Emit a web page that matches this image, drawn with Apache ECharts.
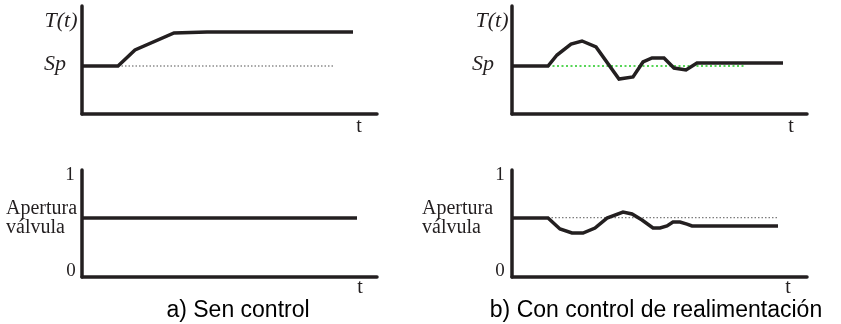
<!DOCTYPE html>
<html>
<head>
<meta charset="utf-8">
<script src="https://cdn.jsdelivr.net/npm/echarts@6/dist/echarts.min.js"></script>
<style>
html,body{margin:0;padding:0;background:#fff;}
#chart{width:841px;height:324px;}
</style>
</head>
<body>
<div id="chart"></div>
<script>
// ---- data (time in arbitrary units, temperature in arbitrary units, valve opening 0..1) ----
const tempNoCtrlTime = [0, 36, 53, 92, 125, 271];
const tempNoCtrlVal  = [48, 48, 64, 81, 82, 82];
const spNoCtrlTime   = [36, 253];
const spNoCtrlVal    = [48, 48];

const tempCtrlTime = [0, 36, 45, 59, 70, 84, 107, 121, 131, 140, 152, 162, 174, 185, 271];
const tempCtrlVal  = [48, 48, 59, 70, 73, 67, 35, 37, 52, 56, 56, 46, 44, 51, 51];
const spCtrlTime   = [0, 234];
const spCtrlVal    = [48, 48];

const valveNoCtrlTime = [0, 275];
const valveNoCtrlVal  = [0.551, 0.551];

const valveCtrlTime = [0, 36, 48, 60, 71, 83, 95, 111, 120, 130, 141, 148, 155, 161, 168, 175, 180, 266];
const valveCtrlVal  = [0.551, 0.551, 0.449, 0.411, 0.411, 0.458, 0.551, 0.607, 0.589, 0.533, 0.458, 0.458, 0.477, 0.514, 0.514, 0.495, 0.477, 0.477];
const valveRefTime  = [36, 266];
const valveRefVal   = [0.555, 0.555];

const yTopLabels  = ['T(t)', 'Sp'];
const yBotLabels  = ['1', '0', 'Apertura', 'válvula'];
const xLabel      = 't';
const captions    = ['a) Sen control', 'b) Con control de realimentación'];

function pairs(t, v) { return t.map((x, i) => [x, v[i]]); }

const INK = '#231f20';
const serif = '"Liberation Serif", "DejaVu Serif", serif';
const sans = '"Liberation Sans", Arial, sans-serif';

const grids = [
  {left: 82, top: 6, width: 295, height: 108},
  {left: 512, top: 6, width: 295, height: 108},
  {left: 82, top: 170, width: 295, height: 107},
  {left: 512, top: 170, width: 295, height: 107}
];
const axisLine = {show: true, onZero: false, lineStyle: {color: INK, width: 3.5}};
const xAxes = grids.map((g, i) => ({
  type: 'value', gridIndex: i, min: 0, max: 295,
  axisLine: axisLine, axisTick: {show: false}, axisLabel: {show: false}, splitLine: {show: false}
}));
const yAxes = grids.map((g, i) => ({
  type: 'value', gridIndex: i, min: 0, max: i < 2 ? 108 : 1,
  axisLine: axisLine, axisTick: {show: false}, axisLabel: {show: false}, splitLine: {show: false}
}));

function mainLine(idx, data) {
  return {type: 'line', xAxisIndex: idx, yAxisIndex: idx, data: data, showSymbol: false,
    silent: true, z: 3, lineStyle: {color: INK, width: 3.5, join: 'miter'}};
}
function refLine(idx, data, color, dash, w) {
  return {type: 'line', xAxisIndex: idx, yAxisIndex: idx, data: data, showSymbol: false,
    silent: true, z: 2, lineStyle: {color: color, width: w, type: dash}};
}

const series = [
  refLine(0, pairs(spNoCtrlTime, spNoCtrlVal), '#8c8c8c', [1.5, 2], 1.3),
  mainLine(0, pairs(tempNoCtrlTime, tempNoCtrlVal)),
  refLine(1, pairs(spCtrlTime, spCtrlVal), '#1fc81f', [2, 2.5], 1.6),
  mainLine(1, pairs(tempCtrlTime, tempCtrlVal)),
  mainLine(2, pairs(valveNoCtrlTime, valveNoCtrlVal)),
  refLine(3, pairs(valveRefTime, valveRefVal), '#7c7c7c', [1.5, 2], 1.3),
  mainLine(3, pairs(valveCtrlTime, valveCtrlVal))
];

function txt(x, y, s, opt) {
  return {type: 'text', x: x, y: y, silent: true, style: Object.assign({
    text: s, fill: INK, font: '19px ' + serif, textAlign: 'center', textVerticalAlign: 'middle'
  }, opt || {})};
}
const itSerif = 'italic 22px ' + serif;
const numFont = '19px ' + serif;
const valveFont = '20px ' + serif;
const graphics = [
  txt(61, 21, yTopLabels[0], {font: itSerif}),
  txt(55, 64, yTopLabels[1], {font: itSerif}),
  txt(492, 21, yTopLabels[0], {font: itSerif}),
  txt(483, 64, yTopLabels[1], {font: itSerif}),
  txt(359, 127, xLabel, {font: '20px ' + serif}),
  txt(791, 127, xLabel, {font: '20px ' + serif}),
  txt(360, 288, xLabel, {font: '20px ' + serif}),
  txt(788, 288, xLabel, {font: '20px ' + serif}),
  txt(70, 175, yBotLabels[0], {font: numFont}),
  txt(71, 271, yBotLabels[1], {font: numFont}),
  txt(500, 175, yBotLabels[0], {font: numFont}),
  txt(500, 271, yBotLabels[1], {font: numFont}),
  txt(6, 209, yBotLabels[2], {textAlign: 'left', font: valveFont}),
  txt(6, 228, yBotLabels[3], {textAlign: 'left', font: valveFont}),
  txt(422, 209, yBotLabels[2], {textAlign: 'left', font: valveFont}),
  txt(422, 228, yBotLabels[3], {textAlign: 'left', font: valveFont}),
  txt(238, 311, captions[0], {font: '23px ' + sans, fill: '#000'}),
  txt(656, 311, captions[1], {font: '23px ' + sans, fill: '#000'})
];

const chart = echarts.init(document.getElementById('chart'), null, {renderer: 'canvas'});
chart.setOption({
  animation: false,
  backgroundColor: '#fff',
  grid: grids,
  xAxis: xAxes,
  yAxis: yAxes,
  series: series,
  graphic: graphics
});
</script>
</body>
</html>
